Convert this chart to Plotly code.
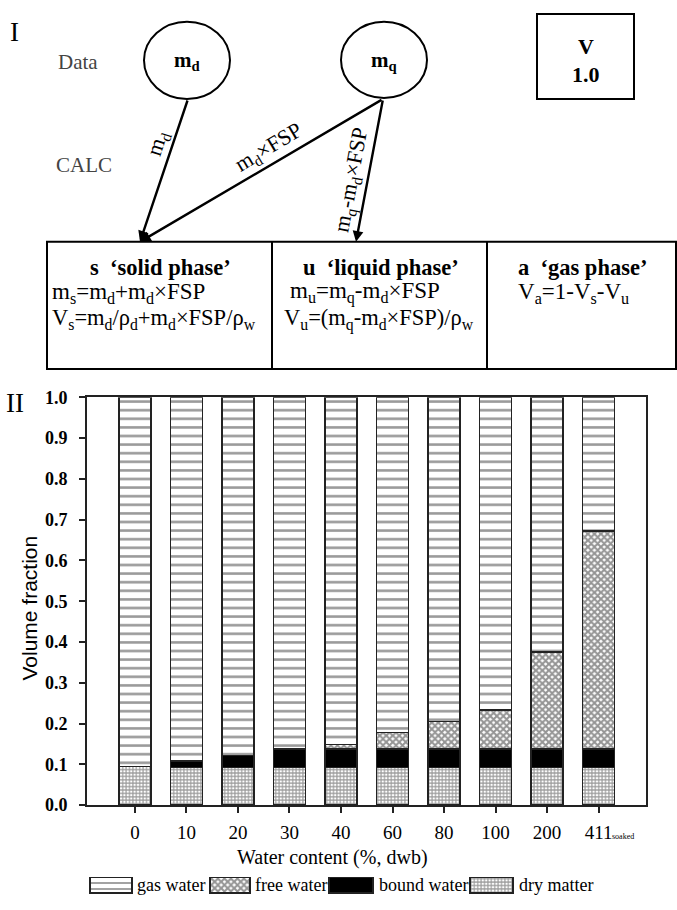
import plotly.graph_objects as go

W, H = 677, 910

# ---- stacked volume fractions per water content ----
categories = ["0", "10", "20", "30", "40", "60", "80", "100", "200", "411"]
dry_matter = [0.095, 0.092, 0.092, 0.092, 0.092, 0.092, 0.092, 0.092, 0.092, 0.092]
bound_water = [0.000, 0.016, 0.030, 0.045, 0.045, 0.045, 0.045, 0.045, 0.045, 0.045]
free_water = [0.000, 0.000, 0.000, 0.000, 0.012, 0.041, 0.068, 0.096, 0.238, 0.535]
gas_water = [0.905, 0.892, 0.878, 0.863, 0.851, 0.822, 0.795, 0.767, 0.625, 0.328]
y_ticks = [0.0, 0.1, 0.2, 0.3, 0.4, 0.5, 0.6, 0.7, 0.8, 0.9, 1.0]

SERIF = "Liberation Serif"
SANS = "Liberation Sans"
EDGE = "#222222"

styles = {
    "dry matter": dict(color="white", pattern=dict(shape="+", size=3.4, solidity=0.55,
                                                   fgcolor="#333333", bgcolor="white")),
    "bound water": dict(color="black", pattern=dict(shape="")),
    "free water": dict(color="white", pattern=dict(shape="x", size=4.6, solidity=0.7,
                                                   fgcolor="#2a2a2a", bgcolor="white")),
    "gas water": dict(color="white", pattern=dict(shape="-", size=8.6, solidity=0.3,
                                                  fgcolor="#333333", bgcolor="white")),
}

series = [("dry matter", dry_matter), ("bound water", bound_water),
          ("free water", free_water), ("gas water", gas_water)]

fig = go.Figure()
xpos = list(range(len(categories)))
for name, vals in series:
    st = styles[name]
    fig.add_trace(go.Bar(
        x=xpos, y=vals, name=name, width=0.62,
        marker=dict(color=st["color"], pattern=st["pattern"],
                    line=dict(color=EDGE, width=1.6)),
        showlegend=False, hoverinfo="skip",
    ))

# ---- legend row (swatches drawn on the full-page pixel axes) ----
legend_items = [("gas water", 90, 42, 135), ("free water", 210, 40, 253),
                ("bound water", 329, 44, 377), ("dry matter", 470, 43, 517)]
LEG_Y = 895
for name, x0, w, tx in legend_items:
    st = styles[name]
    pat = dict(st["pattern"])
    if name == "gas water":
        pat["size"] = 6
    fig.add_trace(go.Bar(
        y=[LEG_Y], x=[w], base=[x0], orientation="h", width=16,
        marker=dict(color=st["color"], pattern=pat, line=dict(color=EDGE, width=1.6)),
        xaxis="x2", yaxis="y2", showlegend=False, hoverinfo="skip",
    ))

ann = []


def txt(x, y, s, size=21, color="black", xanchor="center", angle=0, family=SERIF, weight=None):
    f = dict(family=family, size=size, color=color)
    if weight:
        f["weight"] = weight
    ann.append(dict(x=x, y=y, xref="x2", yref="y2", text=s, showarrow=False,
                    xanchor=xanchor, yanchor="middle", textangle=angle, font=f))


for name, x0, w, tx in legend_items:
    txt(tx, LEG_Y, name, size=18, xanchor="left")

# ---- part I: measurement / calculation diagram ----
txt(14, 22, "I", size=27)
txt(15, 402, "II", size=27)
txt(78, 53, "Data", size=21, color="#444444")
txt(84, 158, "CALC", size=21, color="#444444")
txt(187, 52, "<b>m<sub>d</sub></b>", size=21)
txt(384, 52, "<b>m<sub>q</sub></b>", size=21)
txt(586, 37, "<b>V</b>", size=22)
txt(586, 66, "<b>1.0</b>", size=22)

txt(158, 137, "m<sub>d</sub>", size=22, angle=-72)
txt(269, 141, "m<sub>d</sub>×FSP", size=22, angle=-31)
txt(352, 174, "m<sub>q</sub>-m<sub>d</sub>×FSP", size=22, angle=-79.5)

arrows = [((188, 91), (140, 237)), ((383, 91), (140, 237)), ((383, 91), (356, 237))]
for (ax_, ay_), (hx, hy) in arrows:
    ann.append(dict(x=hx, y=hy, ax=ax_, ay=ay_, xref="x2", yref="y2", axref="x2", ayref="y2",
                    showarrow=True, arrowhead=2, arrowsize=0.9, arrowwidth=2.4,
                    arrowcolor="black", text=""))

NB = "\u00a0"
txt(160, 263, f"<b>s{NB}{NB}‘solid phase’</b>", size=22.5)
txt(50, 289, "m<sub>s</sub>=m<sub>d</sub>+m<sub>d</sub>×FSP", size=23, xanchor="left")
txt(50, 316, "V<sub>s</sub>=m<sub>d</sub>/ρ<sub>d</sub>+m<sub>d</sub>×FSP/ρ<sub>w</sub>",
    size=22.5, xanchor="left")
txt(381, 263, f"<b>u{NB}{NB}‘liquid phase’</b>", size=22.5)
txt(288, 289, "m<sub>u</sub>=m<sub>q</sub>-m<sub>d</sub>×FSP", size=23, xanchor="left")
txt(282, 316, "V<sub>u</sub>=(m<sub>q</sub>-m<sub>d</sub>×FSP)/ρ<sub>w</sub>",
    size=22.5, xanchor="left")
txt(516, 263, f"<b>a{NB}{NB}‘gas phase’</b>", size=22.5, xanchor="left")
txt(516, 289, "V<sub>a</sub>=1-V<sub>s</sub>-V<sub>u</sub>", size=23, xanchor="left")

# ---- axis titles / extra labels for part II ----
txt(332, 867, "Water content (%, dwb)", size=20)
txt(30, 612, "Volume fraction", size=21, angle=-90, family=SANS)
ann.append(dict(x=9, y=845, xref="x", yref="y2", text="soaked", showarrow=False,
                xanchor="left", yanchor="middle", xshift=11,
                font=dict(family=SERIF, size=8, color="black")))

shapes = []
LINE = dict(color="black", width=2)
shapes.append(dict(type="circle", xref="x2", yref="y2", x0=144, x1=230, y0=12, y1=91, line=LINE))
shapes.append(dict(type="circle", xref="x2", yref="y2", x0=341, x1=427, y0=12, y1=90, line=LINE))
shapes.append(dict(type="rect", xref="x2", yref="y2", x0=537, x1=634, y0=4, y1=91, line=LINE))
shapes.append(dict(type="rect", xref="x2", yref="y2", x0=47, x1=676, y0=237, y1=367, line=LINE))
for xv in (272, 487):
    shapes.append(dict(type="line", xref="x2", yref="y2", x0=xv, x1=xv, y0=237, y1=367, line=LINE))

fig.update_layout(
    width=W, height=H, margin=dict(l=0, r=0, t=0, b=0),
    paper_bgcolor="white", plot_bgcolor="rgba(0,0,0,0)",
    font=dict(family=SERIF, color="black"),
    barmode="stack", showlegend=False,
    xaxis=dict(domain=[87 / W, 646 / W], range=[-0.93, 9.92], tickvals=xpos, ticktext=categories,
               ticks="outside", ticklen=6, tickwidth=1.5, tickcolor=EDGE,
               showline=True, linecolor=EDGE, linewidth=1.7, mirror=True,
               showgrid=False, zeroline=False, ticklabelstandoff=3,
               tickfont=dict(family=SERIF, size=19, color="black"), anchor="y"),
    yaxis=dict(domain=[(H - 813) / H, (H - 396) / H], range=[0, 1], tickvals=y_ticks,
               tickformat=".1f", ticks="outside", ticklen=6, tickwidth=1.5, tickcolor=EDGE,
               showline=True, linecolor=EDGE, linewidth=1.7, mirror=True,
               showgrid=False, zeroline=False, ticklabelstandoff=8,
               tickfont=dict(family=SERIF, size=18, color="black", weight="bold"), anchor="x"),
    xaxis2=dict(domain=[0, 1], range=[0, W], visible=False, anchor="y2", fixedrange=True),
    yaxis2=dict(domain=[0, 1], range=[H, 0], visible=False, anchor="x2", fixedrange=True),
    annotations=ann, shapes=shapes,
)

fig.write_html("out.html")
